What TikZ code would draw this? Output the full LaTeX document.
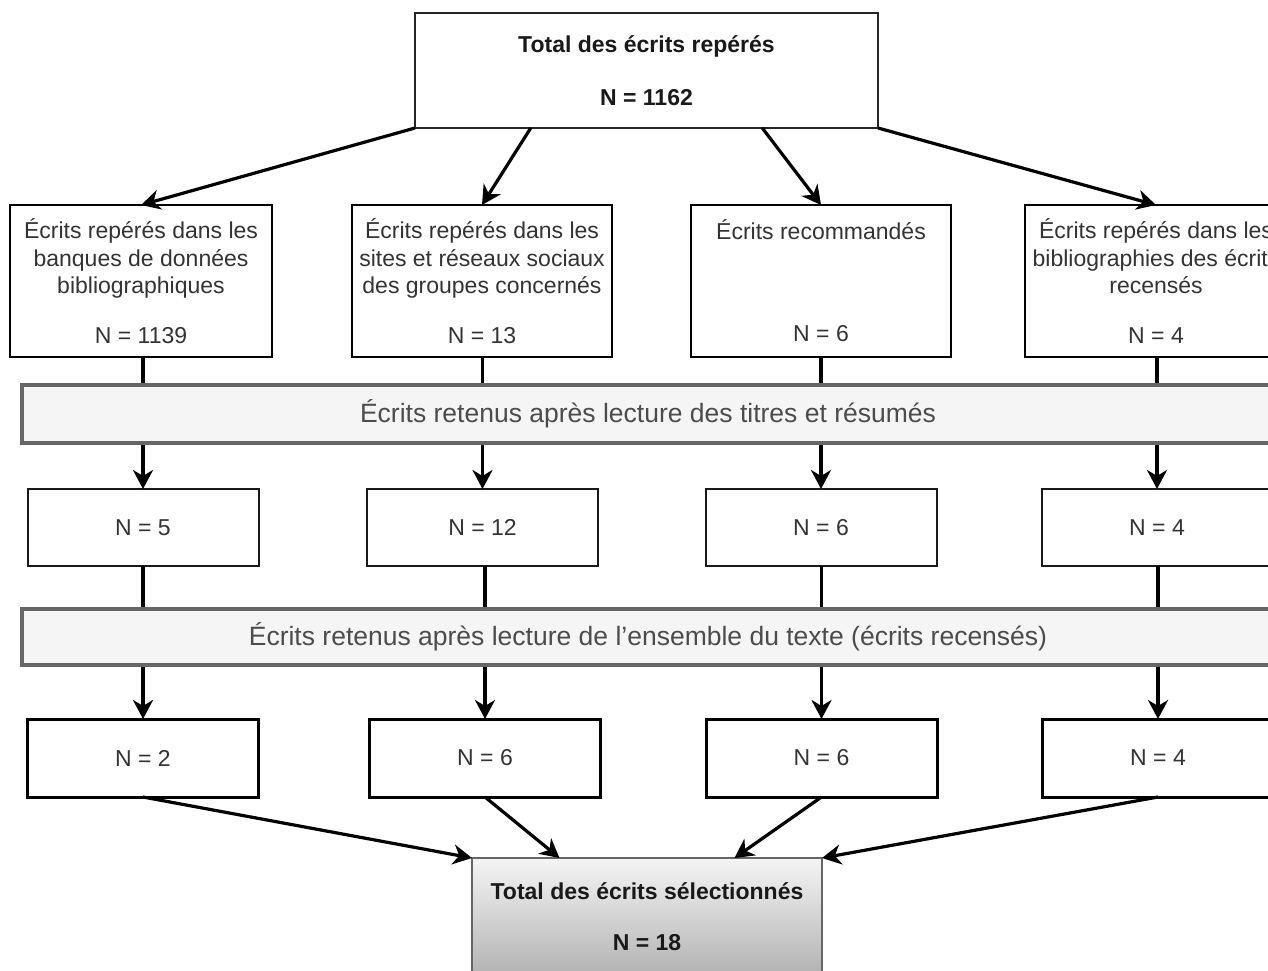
\documentclass[tikz,border=0pt]{standalone}
\usepackage{fontspec}
\setmainfont{Liberation Sans}
\usetikzlibrary{arrows.meta,calc}
\begin{document}
\begin{tikzpicture}[x=1pt,y=-1pt,
  every node/.style={inner sep=0pt, outer sep=0pt, align=center},
  lbl/.style={font=\fontsize{23}{27.6}\selectfont, text=black!80},
  topbox/.style={draw=black!85, line width=2pt, fill=white, minimum width=463pt, minimum height=115pt, font=\fontsize{23}{27.6}\selectfont\bfseries, text=black!90},
  srcbox/.style={draw=black, line width=1.6pt, fill=white, minimum height=152pt, lbl},
  midbox/.style={draw=black!90, line width=2pt, fill=white, minimum width=231pt, minimum height=77pt, lbl},
  endbox/.style={draw=black, line width=3pt, fill=white, minimum width=231pt, minimum height=78pt, lbl},
  band/.style={draw=black!60, line width=4pt, fill=black!4, minimum width=1252pt, font=\fontsize{26.5}{32}\selectfont, text=black!70},
  totbox/.style={draw=black!60, line width=2pt, top color=black!4, bottom color=black!30, minimum width=350pt, minimum height=117pt, font=\fontsize{23}{27.6}\selectfont\bfseries, text=black!90},
  conn/.style={line width=3.2pt, draw=black},
  arr/.style={conn, -{Stealth[length=19pt,width=20pt,inset=6pt]}},
]
\useasboundingbox (0,0) rectangle (1268,971);
\clip (0,0) rectangle (1268,971);

% top box
\node[topbox] (top) at (646.5,70.5) {Total des écrits repérés\\[25.4pt]N = 1162};

% row 2 : sources
\node[srcbox, minimum width=262pt] (ra) at (141,281) {Écrits repérés dans les\\banques de données\\bibliographiques\\[22pt]N = 1139};
\node[srcbox, minimum width=260pt] (rb) at (482,281) {Écrits repérés dans les\\sites et réseaux sociaux\\des groupes concernés\\[22pt]N = 13};
\node[srcbox, minimum width=260pt] (rc) at (821,281) {Écrits recommandés\\[74.4pt]N = 6};
\node[srcbox, minimum width=262pt] (rd) at (1156,281) {Écrits repérés dans les\\bibliographies des écrits\\recensés\\[22pt]N = 4};

% row 3
\node[midbox] (ma) at (143,527.5) {N = 5};
\node[midbox] (mb) at (482.5,527.5) {N = 12};
\node[midbox] (mc) at (821,527.5) {N = 6};
\node[midbox] (md) at (1157,527.5) {N = 4};

% row 4
\node[endbox] (ea) at (143,758) {N = 2};
\node[endbox] (eb) at (485,758) {N = 6};
\node[endbox] (ec) at (821.5,758) {N = 6};
\node[endbox] (ed) at (1158,758) {N = 4};

% bottom total
\node[totbox] (tot) at (647,916.5) {Total des écrits sélectionnés\\[23.4pt]N = 18};

% arrows from top
\coordinate (t1) at (top.south west);
\coordinate (t2) at ($(top.south west)!0.25!(top.south east)$);
\coordinate (t3) at ($(top.south west)!0.75!(top.south east)$);
\coordinate (t4) at (top.south east);
\draw[arr] (t1) -- (ra.north);
\draw[arr] (t2) -- (rb.north);
\draw[arr] (t3) -- (rc.north);
\draw[arr] (t4) -- (rd.north);

% vertical flows (bands drawn over them)
\draw[arr] (ma.north |- ra.south) -- (ma.north);
\draw[arr] (mb.north |- rb.south) -- (mb.north);
\draw[arr] (mc.north |- rc.south) -- (mc.north);
\draw[arr] (md.north |- rd.south) -- (md.north);
\draw[arr] (ea.north |- ma.south) -- (ea.north);
\draw[arr] (eb.north |- mb.south) -- (eb.north);
\draw[arr] (ec.north |- mc.south) -- (ec.north);
\draw[arr] (ed.north |- md.south) -- (ed.north);

% bands
\node[band, minimum height=58pt] (b1) at (648,414) {Écrits retenus après lecture des titres et résumés};
\node[band, minimum height=56pt] (b2) at (648,637) {Écrits retenus après lecture de l’ensemble du texte (écrits recensés)};

% arrows to bottom total
\coordinate (s1) at (tot.north west);
\coordinate (s2) at ($(tot.north west)!0.25!(tot.north east)$);
\coordinate (s3) at ($(tot.north west)!0.75!(tot.north east)$);
\coordinate (s4) at (tot.north east);
\draw[arr] (ea.south) -- (s1);
\draw[arr] (eb.south) -- (s2);
\draw[arr] (ec.south) -- (s3);
\draw[arr] (ed.south) -- (s4);
\end{tikzpicture}
\end{document}
